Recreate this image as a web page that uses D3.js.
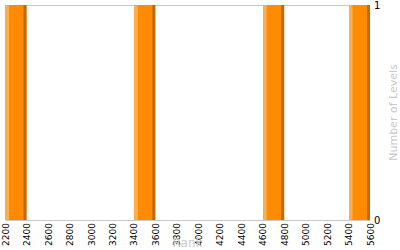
<!DOCTYPE html>
<html>
<head>
<meta charset="utf-8">
<script src="https://cdn.jsdelivr.net/npm/d3@7"></script>
<style>
  body { margin: 0; background: #fff; }
  svg text { font-family: "DejaVu Sans", sans-serif; }
</style>
</head>
<body>
<div id="chart"></div>
<script>
// histogram bins (rank) and number of levels in each
const binStarts = [2200, 3400, 4600, 5400];
const binEnds = [2400, 3600, 4800, 5600];
const levelCounts = [1, 1, 1, 1];
const rankTicks = d3.range(2200, 5601, 200);
const levelTicks = [0, 1];

const width = 400, height = 250;
const margin = { top: 5, right: 30, bottom: 30, left: 5 };
const plotW = width - margin.left - margin.right;
const plotH = height - margin.top - margin.bottom;

const svg = d3.select('#chart')
  .append('svg')
  .attr('width', width)
  .attr('height', height);

const g = svg.append('g')
  .attr('transform', `translate(${margin.left},${margin.top})`);

const x = d3.scaleLinear().domain([2200, 5600]).range([0, plotW]);
const y = d3.scaleLinear().domain([0, 1]).range([plotH, 0]);

// frame lines
g.append('line')
  .attr('x1', 0).attr('x2', plotW)
  .attr('y1', 0.5).attr('y2', 0.5)
  .attr('stroke', '#c8c8c8');
g.append('line')
  .attr('x1', 0.5).attr('x2', 0.5)
  .attr('y1', 0).attr('y2', plotH)
  .attr('stroke', '#c8c8c8');

// bars, with a light left edge and a dark right edge
const bins = binStarts.map((s, i) => ({ x0: s, x1: binEnds[i], n: levelCounts[i] }));
const bar = g.selectAll('g.bar')
  .data(bins)
  .enter().append('g')
  .attr('class', 'bar');

bar.append('rect')
  .attr('x', d => x(d.x0) + 0.5)
  .attr('y', d => y(d.n))
  .attr('width', d => x(d.x1) - x(d.x0) - 0.5)
  .attr('height', d => y(0) - y(d.n))
  .attr('fill', '#ff8c00');
bar.append('rect')
  .attr('x', d => x(d.x0) + 0.5)
  .attr('y', d => y(d.n))
  .attr('width', 3.5)
  .attr('height', d => y(0) - y(d.n))
  .attr('fill', '#ffad4f');
bar.append('rect')
  .attr('x', d => x(d.x1) - 3)
  .attr('y', d => y(d.n))
  .attr('width', 3)
  .attr('height', d => y(0) - y(d.n))
  .attr('fill', '#c0680a');

// bottom axis
const xAxis = g.append('g')
  .attr('transform', `translate(0,${plotH})`)
  .call(d3.axisBottom(x).tickValues(rankTicks).tickSize(0).tickPadding(0).tickFormat(d3.format('d')));
xAxis.select('.domain').attr('stroke', '#c8c8c8');
xAxis.selectAll('text')
  .attr('transform', 'rotate(-90)')
  .attr('x', -3)
  .attr('y', 0)
  .attr('dy', '0.35em')
  .attr('text-anchor', 'end')
  .style('font-size', '9px')
  .attr('fill', '#000');

// right axis
const yAxis = g.append('g')
  .attr('transform', `translate(${plotW},0)`)
  .call(d3.axisRight(y).tickValues(levelTicks).tickSize(0).tickPadding(4).tickFormat(d3.format('d')));
yAxis.select('.domain').remove();
yAxis.selectAll('text')
  .style('font-size', '10px')
  .attr('fill', '#000');

// axis titles
svg.append('text')
  .attr('x', margin.left + plotW / 2)
  .attr('y', height - 3)
  .attr('text-anchor', 'middle')
  .style('font-size', '12px')
  .attr('fill', '#c8c8c8')
  .text('Rank');

svg.append('text')
  .attr('transform', `translate(${width - 3},${margin.top + plotH / 2}) rotate(-90)`)
  .attr('text-anchor', 'middle')
  .style('font-size', '11px')
  .attr('fill', '#c8c8c8')
  .text('Number of Levels');
</script>
</body>
</html>
